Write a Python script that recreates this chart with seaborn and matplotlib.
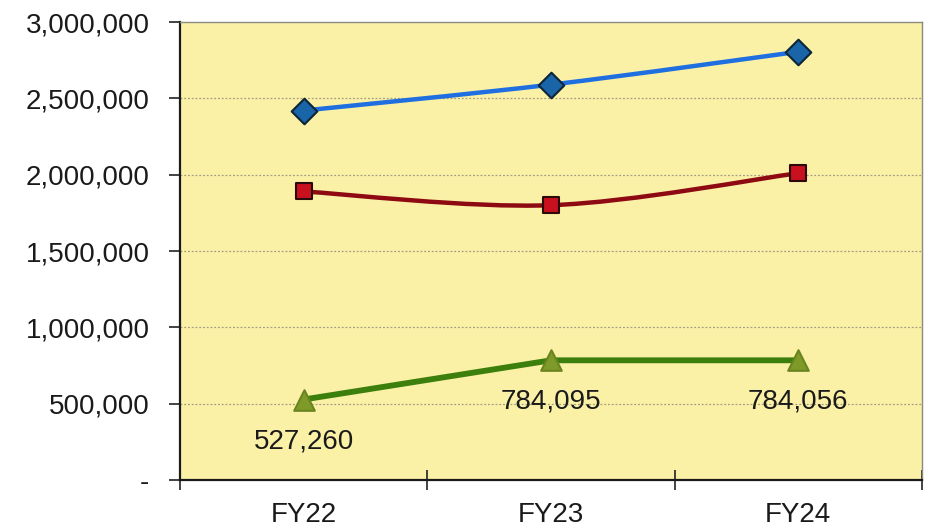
import numpy as np
import pandas as pd
import matplotlib
matplotlib.use("Agg")
import matplotlib.pyplot as plt
from matplotlib.path import Path
from matplotlib.patches import PathPatch
from matplotlib.ticker import FuncFormatter, FixedLocator
import seaborn as sns

# Fiscal-year totals for the three series
years = ["FY22", "FY23", "FY24"]
series_top = [2420000, 2590000, 2805000]
series_mid = [1890000, 1800000, 2010000]
series_low = [527260, 784095, 784056]

y_ticks = [0, 500000, 1000000, 1500000, 2000000, 2500000, 3000000]

sns.set_theme(style="white")
plt.rcParams["font.family"] = ["Liberation Sans", "DejaVu Sans"]

df = pd.DataFrame({
    "pos": list(range(len(years))) * 3,
    "value": series_top + series_mid + series_low,
    "series": ["top"] * 3 + ["mid"] * 3 + ["low"] * 3,
})

fig = plt.figure(figsize=(9.3, 5.28), dpi=100)
ax = fig.add_axes([0.1935, 0.0909, 0.7979, 0.8674])
ax.set_facecolor("#FBF1A6")

# horizontal dotted gridlines
for t in y_ticks[1:-1]:
    ax.axhline(t, color="#a39c82", lw=0.9, ls=(0, (1.5, 1.5)), zorder=1)


def smooth_path(xs, ys, tension=1 / 6):
    """Catmull-Rom style cubic Bezier path through the given points."""
    pts = np.column_stack([xs, ys]).astype(float)
    verts = [pts[0]]
    codes = [Path.MOVETO]
    n = len(pts)
    for i in range(n - 1):
        p0 = pts[i - 1] if i > 0 else pts[i]
        p1, p2 = pts[i], pts[i + 1]
        p3 = pts[i + 2] if i + 2 < n else pts[i + 1]
        c1 = p1 + (p2 - p0) * tension
        c2 = p2 - (p3 - p1) * tension
        verts += [c1, c2, p2]
        codes += [Path.CURVE4] * 3
    return Path(verts, codes)


# line bodies
for name, col, lw, smooth in [
    ("top", "#1F6FE0", 3.2, True),
    ("mid", "#8E0A12", 3.2, True),
    ("low", "#3D7F0C", 4.2, False),
]:
    sub = df[df.series == name]
    if smooth:
        ax.add_patch(PathPatch(smooth_path(sub.pos, sub.value), fill=False,
                               edgecolor=col, lw=lw, zorder=3,
                               capstyle="round"))
    else:
        sns.lineplot(data=sub, x="pos", y="value", ax=ax, color=col, lw=lw,
                     zorder=3, legend=False)

# markers
marker_styles = {
    "top": dict(marker="D", s=170, color="#1A64A8", edgecolor="#0d2436"),
    "mid": dict(marker="s", s=125, color="#C8101E", edgecolor="#2a0a0a"),
    "low": dict(marker="^", s=220, color="#7E9A28", edgecolor="#6a8420"),
}
for name, kw in marker_styles.items():
    sub = df[df.series == name]
    sns.scatterplot(data=sub, x="pos", y="value", ax=ax, linewidth=1.5,
                    zorder=4, legend=False, **kw)

# value labels under the lowest series
for i, v in enumerate(series_low):
    ax.annotate(f"{v:,}", (i, v), xytext=(0, -30), textcoords="offset points",
                ha="center", va="center", fontsize=20, color="#1a1a1a",
                zorder=5)

ax.set_xlim(-0.5, len(years) - 0.5)
ax.set_ylim(0, 3000000)

ax.set_yticks(y_ticks)
ax.yaxis.set_major_formatter(FuncFormatter(lambda v, p: "-" if v == 0 else f"{int(v):,}"))
ax.tick_params(axis="y", which="major", direction="out", length=8, width=1.2,
               color="#222222", labelsize=20, pad=14, left=True,
               labelcolor="#1a1a1a")

ax.set_xticks(range(len(years)))
ax.set_xticklabels(years)
ax.xaxis.set_minor_locator(FixedLocator([-0.5, 0.5, 1.5, 2.5]))
ax.tick_params(axis="x", which="major", length=0, labelsize=20, pad=16,
               labelcolor="#1a1a1a")
ax.tick_params(axis="x", which="minor", direction="inout", length=14,
               width=1.2, color="#222222", bottom=True)

ax.set_xlabel("")
ax.set_ylabel("")

for side in ("left", "bottom"):
    ax.spines[side].set_color("#1a1a1a")
    ax.spines[side].set_linewidth(1.6)
for side in ("top", "right"):
    ax.spines[side].set_color("#8a8a80")
    ax.spines[side].set_linewidth(1.0)

fig.savefig("out.png", dpi=100, facecolor="white")
